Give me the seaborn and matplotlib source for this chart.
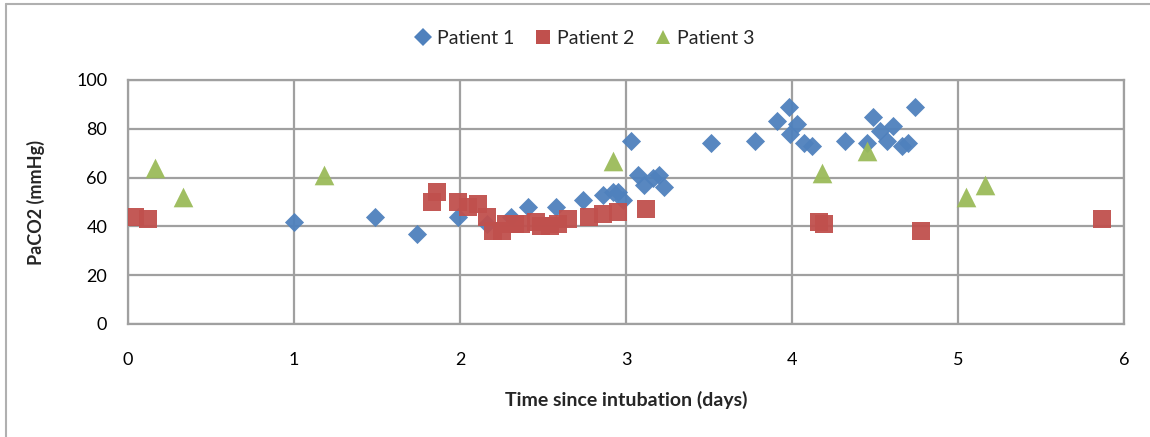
import matplotlib
matplotlib.use("Agg")
import matplotlib.pyplot as plt
from matplotlib.lines import Line2D
import pandas as pd
import seaborn as sns

# PaCO2 measurements per patient: days since intubation and value (mmHg)
p1_days = [1.00, 1.49, 1.74, 1.99, 2.16, 2.31, 2.41, 2.58, 2.74, 2.86, 2.92, 2.95,
           2.98, 3.03, 3.07, 3.11, 3.16, 3.20, 3.23, 3.51, 3.78, 3.91, 3.98, 3.99,
           4.03, 4.07, 4.12, 4.32, 4.45, 4.49, 4.53, 4.57, 4.61, 4.66, 4.70, 4.74]
p1_paco2 = [42, 44, 37, 44, 41, 44, 48, 48, 51, 53, 54, 54,
            51, 75, 61, 57, 60, 61, 56, 74, 75, 83, 89, 78,
            82, 74, 73, 75, 74, 85, 79, 75, 81, 73, 74, 89]

p2_days = [0.04, 0.12, 1.83, 1.86, 1.99, 2.05, 2.11, 2.16, 2.20, 2.25, 2.28, 2.33,
           2.37, 2.46, 2.49, 2.54, 2.59, 2.65, 2.78, 2.86, 2.95, 3.12, 4.16, 4.19,
           4.78, 5.87]
p2_paco2 = [44, 43, 50, 54, 50, 48, 49, 44, 38, 38, 41, 41,
            41, 42, 40, 40, 41, 43, 44, 45, 46, 47, 42, 41,
            38, 43]

p3_days = [0.16, 0.33, 1.18, 2.92, 4.18, 4.45, 5.05, 5.16]
p3_paco2 = [64, 52, 61, 67, 62, 71, 52, 57]

series = ["Patient 1", "Patient 2", "Patient 3"]
palette = {"Patient 1": "#4F81BD", "Patient 2": "#C0504D", "Patient 3": "#9BBB59"}
markers = {"Patient 1": "D", "Patient 2": "s", "Patient 3": "^"}
sizes = {"Patient 1": 95, "Patient 2": 150, "Patient 3": 200}

x_ticks = [0, 1, 2, 3, 4, 5, 6]
y_ticks = [0, 20, 40, 60, 80, 100]

frames = []
for name, d, v in zip(series, [p1_days, p2_days, p3_days],
                      [p1_paco2, p2_paco2, p3_paco2]):
    frames.append(pd.DataFrame({"days": d, "paco2": v, "patient": name}))
df = pd.concat(frames, ignore_index=True)

sns.set_style("white")
plt.rcParams["font.family"] = ["Lato", "DejaVu Sans"]

fig = plt.figure(figsize=(11.5, 4.37), dpi=100)
ax = fig.add_axes([128 / 1150, 1 - 324 / 437, (1124 - 128) / 1150, (324 - 80) / 437])

grid_col = "#A0A0A0"
ax.set_axisbelow(True)
for name in series:
    sub = df[df["patient"] == name]
    sns.scatterplot(data=sub, x="days", y="paco2", ax=ax, color=palette[name],
                    marker=markers[name], s=sizes[name], linewidth=0,
                    alpha=0.95, zorder=3, legend=False)

ax.set_xlim(0, 6)
ax.set_ylim(0, 100)
ax.set_xticks(x_ticks)
ax.set_yticks(y_ticks)
ax.grid(True, color=grid_col, linewidth=1.6)
for sp in ax.spines.values():
    sp.set_color(grid_col)
    sp.set_linewidth(1.6)
ax.tick_params(axis="both", length=0, labelsize=13, colors="black")
ax.tick_params(axis="x", pad=20)
ax.tick_params(axis="y", pad=15)

ax.set_xlabel("Time since intubation (days)", fontsize=14, fontweight="bold", labelpad=17)
ax.set_ylabel("PaCO2 (mmHg)", fontsize=13, fontweight="bold", labelpad=22)

handles = [Line2D([], [], linestyle="none", marker=markers[n], color=palette[n],
                  markersize=9 if n == "Patient 1" else 10, markeredgewidth=0)
           for n in series]
fig.legend(handles, series, loc="center", bbox_to_anchor=(0.507, 1 - 38 / 437),
           ncol=3, frameon=False, fontsize=14, handletextpad=0.1,
           columnspacing=0.9, handlelength=1.2)

# chart area border (top and left edges)
border = "#B0B0B0"
fig.add_artist(Line2D([6 / 1150, 1], [1 - 4 / 437, 1 - 4 / 437],
                      transform=fig.transFigure, color=border, linewidth=1.5))
fig.add_artist(Line2D([6 / 1150, 6 / 1150], [0, 1 - 4 / 437],
                      transform=fig.transFigure, color=border, linewidth=1.5))

fig.savefig("out.png", dpi=100)
